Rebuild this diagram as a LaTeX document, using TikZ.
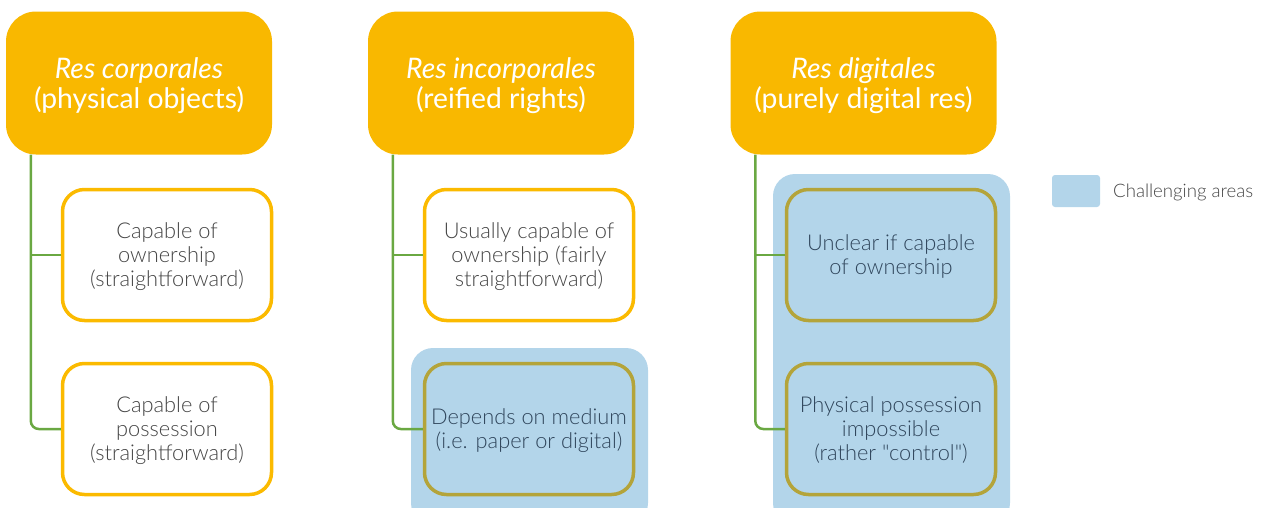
\documentclass[tikz,border=0pt]{standalone}
\usepackage{fontspec}
\setmainfont{Lato}
\newfontfamily\latolight{Lato Light}
\definecolor{hdr}{HTML}{F9B800}
\definecolor{cbord}{HTML}{FBBA00}
\definecolor{chal}{HTML}{B3D5EA}
\definecolor{olive}{HTML}{B4A43A}
\definecolor{grn}{HTML}{6AA842}
\definecolor{gtxt}{HTML}{454545}
\definecolor{btxt}{HTML}{30465C}
\tikzset{
  hdrbox/.style={fill=hdr, rounded corners=30pt, minimum width=266pt, minimum height=143pt, text=white, align=center, font=\fontsize{28.3}{30}\selectfont, inner sep=0pt, text depth=0pt},
  childbox/.style={draw=cbord, line width=3.5pt, fill=white, rounded corners=22pt, minimum width=209pt, minimum height=131pt, text=gtxt, align=center, font=\latolight\fontsize{21.8}{24}\selectfont, inner sep=0pt, text depth=-4pt},
  chalchild/.style={childbox, draw=olive, fill=chal, text=btxt},
  chalarea/.style={fill=chal, rounded corners=22pt},
  conn/.style={draw=grn, line width=2.5pt, rounded corners=8pt},
}
\begin{document}
\begin{tikzpicture}[x=1pt,y=-1pt]
\useasboundingbox (0,0) rectangle (1264,507);
\begin{scope}
\clip (0,0) rectangle (1264,507);
\fill[chalarea] (411,348) rectangle (648,525);
\fill[chalarea] (773,174) rectangle (1010,525);
\end{scope}
% headers
\node[hdrbox] (h1) at (139,83) {\textit{Res corporales}\\(physical objects)};
\node[hdrbox] (h2) at (501,83) {\textit{Res incorporales}\\(reified rights)};
\node[hdrbox] (h3) at (863.5,83) {\textit{Res digitales}\\(purely digital res)};
% children
\node[childbox] (c1a) at (167,255) {Capable of\\ownership\\(straightforward)};
\node[childbox] (c1b) at (167,429) {Capable of\\possession\\(straightforward)};
\node[childbox] (c2a) at (529,255) {Usually capable of\\ownership (fairly\\straightforward)};
\node[chalchild] (c2b) at (529,429) {Depends on medium\\(i.e. paper or digital)};
\node[chalchild] (c3a) at (891,255) {Unclear if capable\\of ownership};
\node[chalchild] (c3b) at (891,429) {Physical possession\\impossible\\(rather "control")};
% connectors
\draw[conn] (h1.south west) ++(25,0) |- (c1b.west);
\draw[conn] (c1a.west) -- ++(-30,0);
\draw[conn] (h2.south west) ++(25,0) |- (c2b.west);
\draw[conn] (c2a.west) -- ++(-30,0);
\draw[conn] (h3.south west) ++(25,0) |- (c3b.west);
\draw[conn] (c3a.west) -- ++(-29,0);
% legend
\node[fill=chal, rounded corners=3pt, minimum width=48pt, minimum height=32pt, inner sep=0pt] (leg) at (1076,191) {};
\node[anchor=west, text=gtxt, font=\latolight\fontsize{18.6}{20}\selectfont, inner sep=0pt] (legt) at (1113,192) {Challenging areas};
\end{tikzpicture}
\end{document}
